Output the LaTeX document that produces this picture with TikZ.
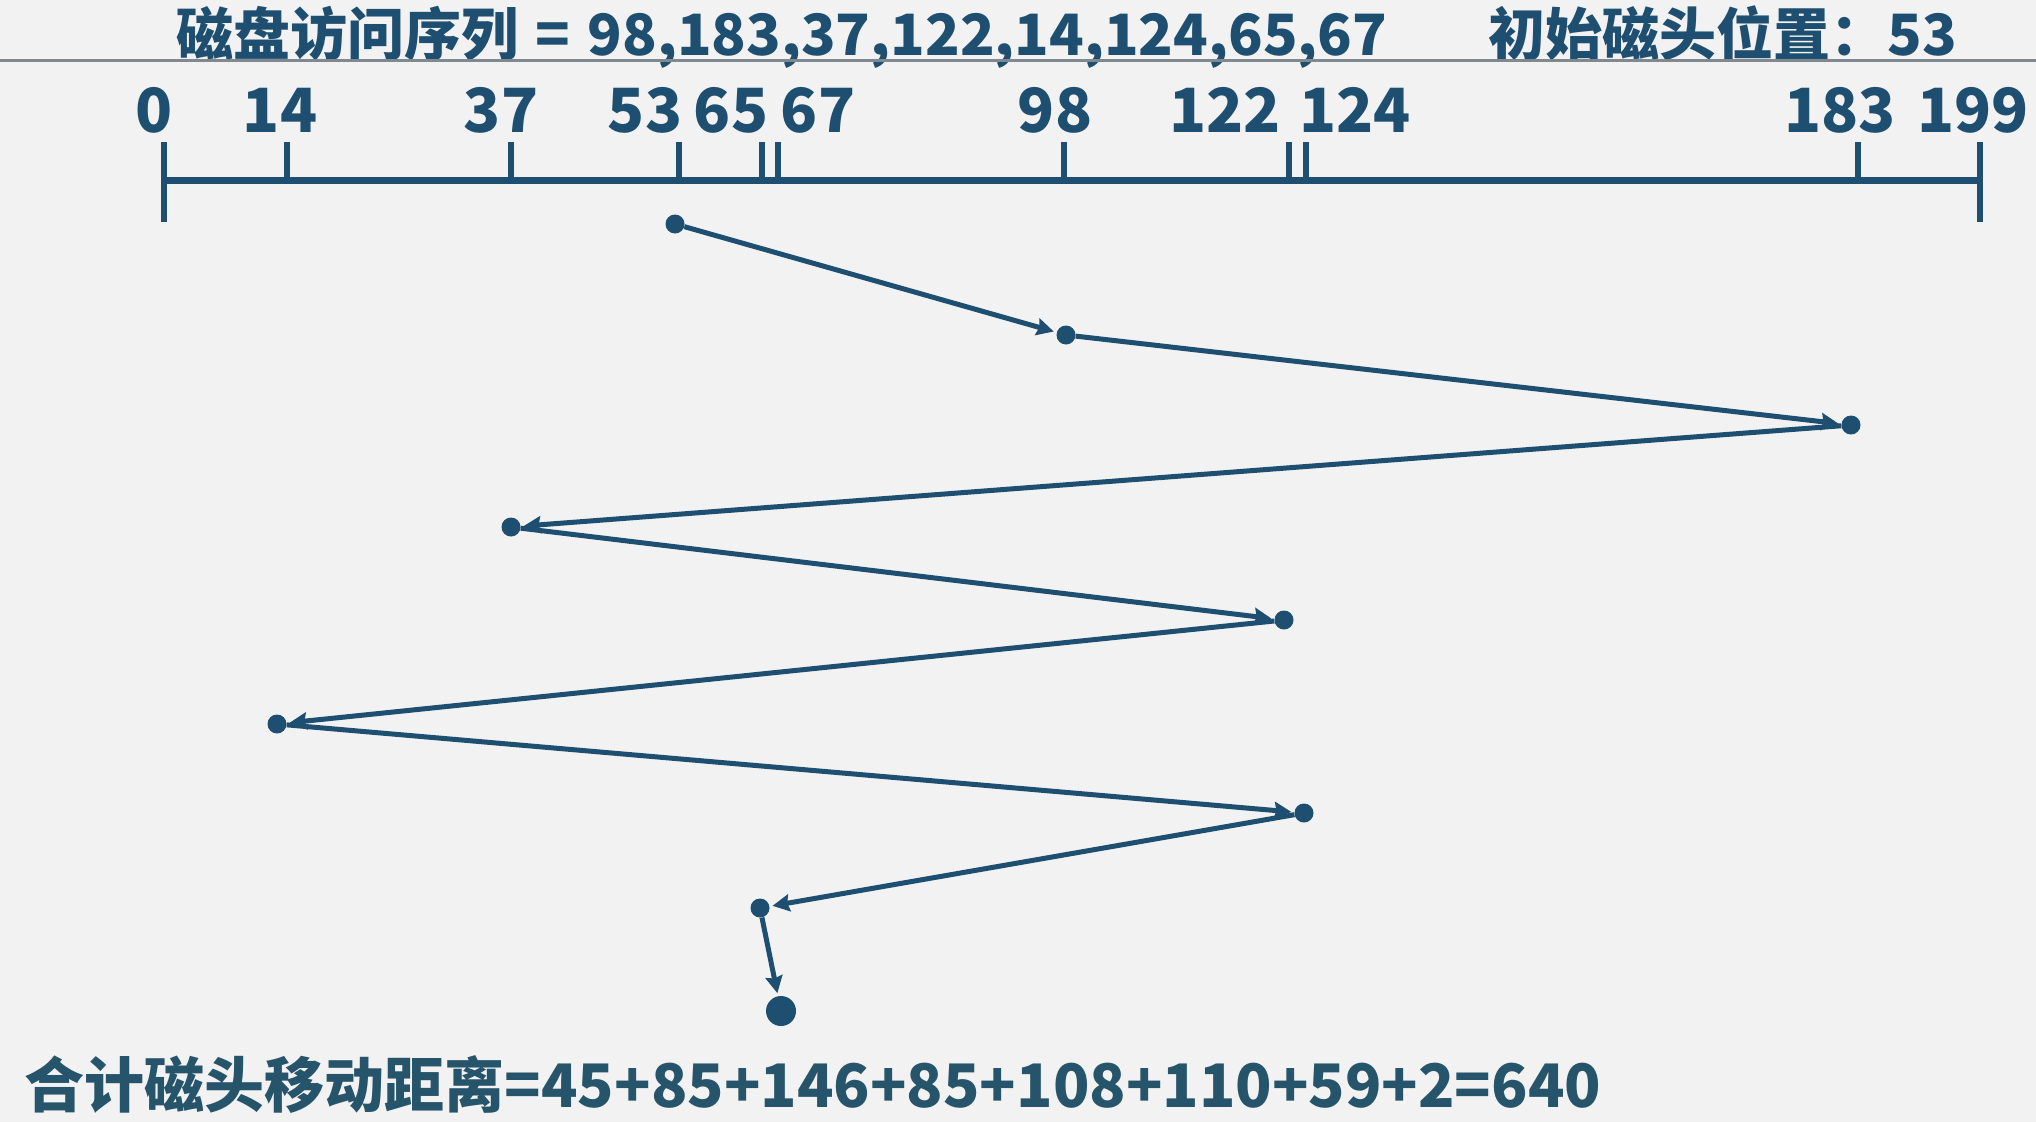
\documentclass[tikz,border=0pt]{standalone}
\usepackage{fontspec}
\setmainfont{Noto Sans CJK SC}
\usetikzlibrary{arrows.meta}
\definecolor{bgc}{RGB}{242,242,242}
\definecolor{ink}{RGB}{31,79,112}
\definecolor{inkb}{RGB}{38,84,106}
\definecolor{rule}{RGB}{128,136,144}
\tikzset{
  dot/.style={circle,fill=ink,inner sep=0pt,minimum size=19pt},
  bigdot/.style={circle,fill=ink,inner sep=0pt,minimum size=30pt},
  arr/.style={draw=ink,line width=5pt,-{Stealth[length=17pt,width=17pt,inset=2pt]},shorten >=3pt},
  axis/.style={draw=ink,line width=7pt},
  tickm/.style={draw=ink,line width=6pt},
  lab/.style={text=ink,font=\bfseries\fontsize{61}{61}\selectfont,inner sep=0pt,anchor=base},
  ttl/.style={text=ink,font=\bfseries\fontsize{57}{57}\selectfont,inner sep=0pt,anchor=base},
  sumtxt/.style={text=inkb,font=\bfseries\fontsize{60}{60}\selectfont,inner sep=0pt,anchor=base}
}
\begin{document}
\begin{tikzpicture}[x=1pt,y=-1pt]
\fill[bgc] (0,0) rectangle (2036,1122);
\useasboundingbox (0,0) rectangle (2036,1122);
% title
\node[ttl] (title) at (782,55) {磁盘访问序列\hspace{0.3em}=\hspace{0.3em}98,183,37,122,14,124,65,67};
\node[ttl] (init) at (1723,55) {初始磁头位置：53};
\draw[rule,line width=2.5pt] (0,60.5) -- (2036,60.5);
% axis
\coordinate (a0) at (164,180);
\coordinate (a199) at (1980,180);
\draw[axis] (a0) -- (a199);
\draw[tickm] (164,142) -- (164,222);
\draw[tickm] (1980,142) -- (1980,222);
\foreach \x in {287,511,679,762,778,1064,1289,1306,1858}
  \draw[tickm] (\x,142) -- (\x,180);
% labels
\node[lab] (l0) at (154,132) {0};
\node[lab] (l14) at (280,132) {14};
\node[lab] (l37) at (501,132) {37};
\node[lab] (l53) at (645,132) {53};
\node[lab] (l65) at (731,132) {65};
\node[lab] (l67) at (818,132) {67};
\node[lab] (l98) at (1055,132) {98};
\node[lab] (l122) at (1225,132) {122};
\node[lab] (l124) at (1355,132) {124};
\node[lab] (l183) at (1840,132) {183};
\node[lab] (l199) at (1973,132) {199};
% points
\node[dot] (p0) at (675,224) {};
\node[dot] (p1) at (1066,335) {};
\node[dot] (p2) at (1851,425) {};
\node[dot] (p3) at (511,527) {};
\node[dot] (p4) at (1284,620) {};
\node[dot] (p5) at (277,724) {};
\node[dot] (p6) at (1304,813) {};
\node[dot] (p7) at (760,908) {};
\node[bigdot] (p8) at (781,1011) {};
\draw[arr] (p0) -- (p1);
\draw[arr] (p1) -- (p2);
\draw[arr] (p2) -- (p3);
\draw[arr] (p3) -- (p4);
\draw[arr] (p4) -- (p5);
\draw[arr] (p5) -- (p6);
\draw[arr] (p6) -- (p7);
\draw[arr] (p7) -- (p8);
% sum
\node[sumtxt] (sum) at (813,1107) {合计磁头移动距离=45+85+146+85+108+110+59+2=640};
\end{tikzpicture}
\end{document}
